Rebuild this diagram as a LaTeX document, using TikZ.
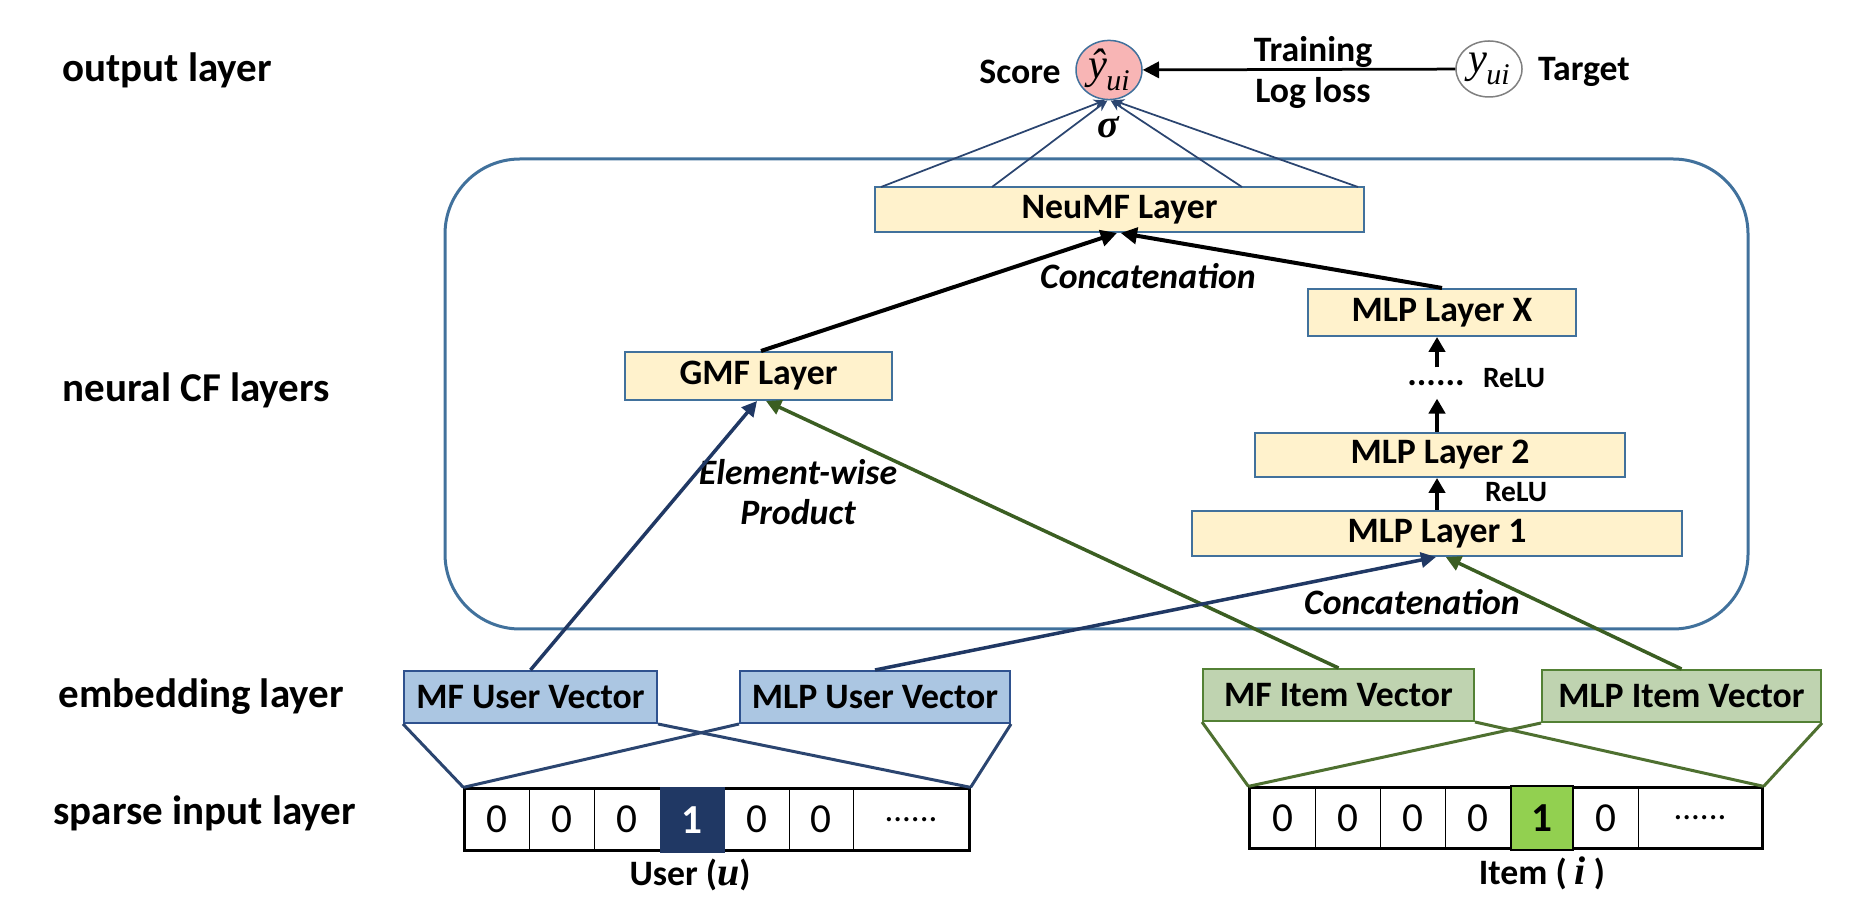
\documentclass[tikz,border=0pt]{standalone}
\usepackage{fontspec}
\setmainfont{Carlito}
\newfontfamily\tms{Liberation Serif}
\usetikzlibrary{arrows.meta,shapes.geometric,fit,calc}
\definecolor{boxline}{HTML}{41719C}
\definecolor{layfill}{HTML}{FFF2CC}
\definecolor{bluefill}{HTML}{ABC6E2}
\definecolor{blueborder}{HTML}{2F528F}
\definecolor{greenfill}{HTML}{BFD3B0}
\definecolor{greenborder}{HTML}{538135}
\definecolor{navyA}{HTML}{203864}
\definecolor{navyL}{HTML}{2B4570}
\definecolor{greenA}{HTML}{3B5E22}
\definecolor{greenL}{HTML}{4E7030}
\definecolor{pinkf}{HTML}{F8B5B5}
\definecolor{cellgreen}{HTML}{92D050}
\newcommand\myfb{\fontsize{14.3}{17}\selectfont\bfseries}
\newcommand\myfbi{\fontsize{14.3}{17}\selectfont\bfseries\itshape}
\newcommand\myflab{\fontsize{16.4}{20}\selectfont\bfseries}
\newcommand\myrelu{\fontsize{11.8}{14}\selectfont\bfseries}
\newcommand\mydig{\fontsize{16.5}{18}\selectfont}
\tikzset{
  sz/.style 2 args={minimum width=#1*0.4pt, minimum height=#2*0.4pt, inner sep=0pt},
  lay/.style={draw=boxline, fill=layfill, line width=0.8pt, font=\myfb},
  embu/.style={draw=blueborder, fill=bluefill, line width=0.8pt, font=\myfb},
  embi/.style={draw=greenborder, fill=greenfill, line width=0.8pt, font=\myfb},
  cell/.style={draw=black, line width=0.4pt, font=\mydig},
  lbl/.style={inner sep=0pt, font=\myfb},
  sidelbl/.style={inner sep=0pt, font=\myflab, anchor=base west},
  blk/.style={draw=black, line width=1.6pt, -{Triangle[length=6.5pt,width=6.5pt]}},
  mlparr/.style={draw=black, line width=1.6pt, -{Triangle[length=6pt,width=6.5pt]}},
  barr/.style={draw=navyA, line width=1.4pt, -{Triangle[length=6pt,width=6pt]}},
  garr/.style={draw=greenA, line width=1.4pt, -{Triangle[length=6pt,width=6pt]}},
  outl/.style={draw=navyL, line width=0.7pt, -{Stealth[length=4.5pt,width=4pt]}},
  ulink/.style={draw=navyL, line width=1.2pt},
  ilink/.style={draw=greenL, line width=1.2pt},
}
\begin{document}
\begin{tikzpicture}[x=0.4pt,y=-0.4pt]
\useasboundingbox (0,0) rectangle (1858,910);

% side labels
\node[sidelbl] (l1) at (62,82) {output layer};
\node[sidelbl] (l2) at (62,402) {neural CF layers};
\node[sidelbl] (l3) at (58,708) {embedding layer};
\node[sidelbl] (l4) at (53,825) {sparse input layer};

% container
\node[draw=boxline, line width=1.2pt, rounded corners=30pt, sz={1303}{470}] (cf) at (1096.5,394) {};

% output layer
\node[ellipse, draw=boxline, fill=pinkf, line width=0.6pt, sz={66}{58}] (score) at (1109,70)
  {\tms\itshape\fontsize{17}{17}\selectfont ŷ\kern-0.3pt\raisebox{-0.28em}{\fontsize{12}{12}\selectfont ui}};
\node[ellipse, draw=gray, fill=white, line width=0.6pt, sz={66}{56}] (target) at (1489,69)
  {\tms\itshape\fontsize{17}{17}\selectfont y\kern-0.3pt\raisebox{-0.28em}{\fontsize{12}{12}\selectfont ui}};
\node[lbl] (scoretxt) at (1020,72) {Score};
\node[lbl] (targettxt) at (1584,72) {Target};
\node[lbl] (train) at (1313,52) {Training};
\node[lbl] (logloss) at (1313,93) {Log loss};
\node[inner sep=0pt, font=\tms\bfseries\itshape\fontsize{16}{16}\selectfont] (sigma) at (1108,127) {σ};
\draw[draw=black, line width=1.1pt, -{Triangle[length=6.5pt,width=6.5pt]}] (target) -- (score);

% neural CF layers
\node[lay, sz={489}{45}] (neumf) at (1119.5,209.5) {NeuMF Layer};
\node[lay, sz={267}{48}] (gmf) at (758.5,376) {GMF Layer};
\node[lay, sz={268}{47}] (mlpx) at (1442,312.5) {MLP Layer X};
\node[lay, sz={370}{44}] (mlp2) at (1440,455) {MLP Layer 2};
\node[lay, sz={490}{45}] (mlp1) at (1437,533.5) {MLP Layer 1};
\node[inner sep=0pt, font=\myfb] (dots) at (1436,383) {......};
\node[lbl, font=\myrelu] (relu1) at (1516,492) {ReLU};
\node[lbl, font=\myrelu] (relu2) at (1514,378) {ReLU};
\node[lbl, font=\myfbi] (concat1) at (1148,276) {Concatenation};
\node[lbl, font=\myfbi] (concat2) at (1412,602) {Concatenation};
\node[lbl, font=\myfbi, align=center] (ewp) at (798,492) {Element-wise\\[-1pt]Product};

\coordinate (nm1) at (881,187);
\coordinate (nm2) at (992,187);
\coordinate (nm3) at (1242,187);
\coordinate (nm4) at (1358,187);
\draw[outl] (nm1) -- ([xshift=-1.6pt]score.south);
\draw[outl] (nm2) -- ([xshift=-0.6pt]score.south);
\draw[outl] (nm3) -- ([xshift=0.6pt]score.south);
\draw[outl] (nm4) -- ([xshift=1.6pt]score.south);

\draw[blk] ([xshift=1pt]gmf.north) -- ([xshift=-1pt]neumf.south);
\draw[blk] (mlpx.north) -- ([xshift=0.5pt]neumf.south);
\draw[mlparr] (mlp1.north) -- (mlp1.north |- mlp2.south);
\draw[mlparr, shorten >=5pt] (mlp1.north |- mlp2.north) -- (mlp1.north |- dots.south);
\draw[mlparr, shorten <=5pt] (mlp1.north |- dots.north) -- (mlp1.north |- mlpx.south);

% embedding layer
\node[embu, sz={253}{52}] (mfu) at (530.5,697) {MF User Vector};
\node[embu, sz={270}{52}] (mlpu) at (875,697) {MLP User Vector};
\node[embi, sz={271}{52}] (mfi) at (1338.5,695) {MF Item Vector};
\node[embi, sz={279}{52}] (mlpi) at (1681.5,696) {MLP Item Vector};

\draw[barr] (mfu.north) -- ([xshift=-0.6pt]gmf.south);
\draw[garr] (mfi.north) -- ([xshift=3pt]gmf.south);
\draw[barr] (mlpu.north) -- ([xshift=-0.4pt]mlp1.south);
\draw[garr] (mlpi.north) -- ([xshift=3.5pt]mlp1.south);

% sparse input: user
\node[cell, sz={64}{61}] (u1) at (497,819.5) {0};
\node[cell, sz={65}{61}] (u2) at (561.5,819.5) {0};
\node[cell, sz={66}{61}] (u3) at (627,819.5) {0};
\node[cell, sz={64}{61}] (u4) at (692,819.5) {};
\node[cell, sz={65}{61}] (u5) at (756.5,819.5) {0};
\node[cell, sz={64}{61}] (u6) at (821,819.5) {0};
\node[cell, sz={116}{61}] (u7) at (911,819.5) {\fontsize{14}{16}\selectfont ......};
\node[fit=(u1)(u7), draw=black, line width=0.9pt, inner sep=0pt] (uvec) {};
\node[draw=navyA, fill=navyA, text=white, sz={64}{64}, font=\mydig\bfseries] (uone) at (692,820) {1};
\node[lbl] (usertxt) at (690,875) {User ({\tms\itshape\fontsize{16}{16}\selectfont u})};

% sparse input: item
\node[cell, sz={65}{60}] (i1) at (1282.5,818) {0};
\node[cell, sz={65}{60}] (i2) at (1347.5,818) {0};
\node[cell, sz={65}{60}] (i3) at (1412.5,818) {0};
\node[cell, sz={66}{60}] (i4) at (1478,818) {0};
\node[cell, sz={62}{60}] (i5) at (1542,818) {};
\node[cell, draw=gray!70, sz={65}{60}] (i6) at (1605.5,818) {0};
\node[cell, sz={124}{60}] (i7) at (1700,818) {\fontsize{14}{16}\selectfont ......};
\node[fit=(i1)(i7), draw=black, line width=0.9pt, inner sep=0pt] (ivec) {};
\node[draw=black, line width=0.5pt, fill=cellgreen, sz={62}{64}, font=\mydig\bfseries] (ione) at (1542,818) {1};
\node[lbl] (itemtxt) at (1542,873) {Item ( {\tms\itshape\fontsize{16}{16}\selectfont i} )};

% embedding-to-input links
\draw[ulink] (mfu.south west) -- (uvec.north west);
\draw[ulink] (mfu.south east) -- (uvec.north east);
\draw[ulink] (mlpu.south west) -- (uvec.north west);
\draw[ulink] (mlpu.south east) -- (uvec.north east);
\draw[ilink] (mfi.south west) -- (ivec.north west);
\draw[ilink] (mfi.south east) -- (ivec.north east);
\draw[ilink] (mlpi.south west) -- (ivec.north west);
\draw[ilink] (mlpi.south east) -- (ivec.north east);
\end{tikzpicture}
\end{document}
